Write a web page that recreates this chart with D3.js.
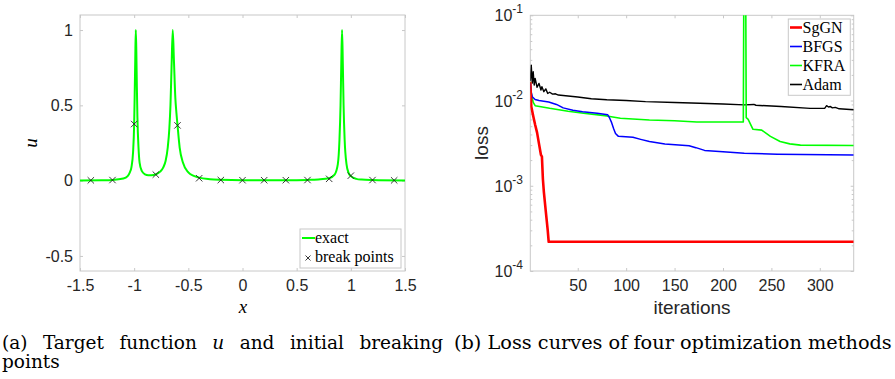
<!DOCTYPE html>
<html>
<head>
<meta charset="utf-8">
<title>Target function and loss curves</title>
<script src="https://cdnjs.cloudflare.com/ajax/libs/d3/7.8.5/d3.min.js"></script>
<style>
  body { margin: 0; background: #fff; }
  .tick text { font-family: "Liberation Sans", Arial, sans-serif; font-size: 16px; fill: #262626; }
  .serif { font-family: "Liberation Serif", "Times New Roman", serif; fill: #000; }
  .cap { font-family: "DejaVu Serif", serif; fill: #000; }
  .sans { font-family: "Liberation Sans", Arial, sans-serif; fill: #262626; }
</style>
</head>
<body>
<div id="fig"></div>
<script>
// ---- (a) target function u ----
var uX = [-1.5, -1.3, -1.2, -1.1, -1.06, -1.04, -1.025, -1.01, -1.0, -0.995, -0.99, -0.985, -0.98, -0.975, -0.97,
          -0.96, -0.95, -0.93, -0.9, -0.87, -0.84, -0.8, -0.76, -0.73, -0.71, -0.69, -0.675, -0.665, -0.655, -0.644,
          -0.633, -0.62, -0.61, -0.6, -0.58, -0.55, -0.5, -0.45, -0.4, -0.3, -0.2, 0, 0.2, 0.4, 0.6, 0.7, 0.8, 0.85,
          0.88, 0.895, 0.905, 0.912, 0.919, 0.926, 0.933, 0.943, 0.96, 0.98, 1.0, 1.05, 1.1, 1.2, 1.5];
var uY = [0.001, 0.003, 0.005, 0.014, 0.03, 0.055, 0.09, 0.19, 0.38, 0.58, 0.8, 1.0, 0.86, 0.62, 0.42,
          0.22, 0.12, 0.065, 0.042, 0.036, 0.036, 0.042, 0.06, 0.09, 0.13, 0.22, 0.35, 0.5, 0.75, 1.0,
          0.8, 0.55, 0.45, 0.37, 0.22, 0.12, 0.055, 0.032, 0.02, 0.01, 0.006, 0.003, 0.003, 0.003, 0.005, 0.008, 0.016, 0.04,
          0.11, 0.27, 0.5, 0.78, 1.0, 0.78, 0.5, 0.27, 0.11, 0.05, 0.03, 0.012, 0.007, 0.004, 0.001];
var bpX = [-1.4, -1.2, -1.0, -0.8, -0.6, -0.4, -0.2, 0, 0.2, 0.4, 0.6, 0.8, 1.0, 1.2, 1.4];
var bpY = [0.002, 0.004, 0.376, 0.04, 0.367, 0.016, 0.004, 0.003, 0.003, 0.003, 0.004, 0.012, 0.033, 0.004, 0.002];
var xTicksA = [-1.5, -1, -0.5, 0, 0.5, 1, 1.5];
var yTicksA = [-0.5, 0, 0.5, 1];

// ---- (b) loss curves ----
var sgIt   = [1, 2, 4, 6, 8, 10, 12, 13, 14, 15, 17, 19, 20, 335];
var sgLoss = [0.0166, 0.0085, 0.0066, 0.0052, 0.0042, 0.0031, 0.0023, 0.0022, 0.0012, 0.00085, 0.0005, 0.0003, 0.00022, 0.00022];
var bfIt   = [1, 2, 3, 6, 10, 20, 28, 35, 45, 55, 70, 81, 83, 85, 87, 89, 92, 107, 115, 124, 140, 165, 172, 181, 200, 222, 256, 335];
var bfLoss = [0.016, 0.0125, 0.0111, 0.0103, 0.0100, 0.0096, 0.0090, 0.0082, 0.0077, 0.0074, 0.0071, 0.0068, 0.0062, 0.0055,
              0.0047, 0.0041, 0.0038, 0.0037, 0.0035, 0.0033, 0.0031, 0.00295, 0.0028, 0.0026, 0.0025, 0.0024, 0.00235, 0.0023];
var kfIt   = [1, 2, 4, 6, 21, 40, 56, 80, 94, 124, 150, 173, 221, 222, 223, 224, 226, 231, 240, 249, 259, 269, 280, 335];
var kfLoss = [0.0166, 0.012, 0.0095, 0.0087, 0.0081, 0.0075, 0.0071, 0.0066, 0.0062, 0.0059, 0.0058, 0.0056, 0.0056, 5, 5,
              0.0063, 0.0060, 0.0046, 0.0045, 0.0038, 0.0033, 0.0031, 0.0030, 0.00297];
var adIt   = [1, 2, 3, 4, 5, 6, 8, 10, 12, 13, 15, 17, 19, 21, 24, 27, 30, 40, 50, 64, 80, 100, 120, 150, 176, 200, 222,
              232, 234, 260, 290, 305, 307, 309, 311, 313, 316, 320, 335];
var adLoss = [0.017, 0.026, 0.016, 0.0218, 0.0152, 0.0182, 0.0143, 0.0159, 0.0133, 0.0145, 0.0127, 0.0137, 0.0121, 0.0125,
              0.0119, 0.0120, 0.0116, 0.0113, 0.0110, 0.0105, 0.0102, 0.0100, 0.0097, 0.0095, 0.0093, 0.0091, 0.0089,
              0.0090, 0.0088, 0.0085, 0.0081, 0.0081, 0.0087, 0.0084, 0.0085, 0.0082, 0.0083, 0.0080, 0.0078];
var methods = ["SgGN", "BFGS", "KFRA", "Adam"];
var xTicksB = [50, 100, 150, 200, 250, 300];
var yTicksB = [1e-4, 1e-3, 1e-2, 1e-1];

var W = 895, H = 379;
var boxCol = "#c8c8c8";

var svg = d3.select("#fig").append("svg")
    .attr("width", W).attr("height", H);

// draws a matlab style box with inward ticks on all sides
function boxAxes(x, y, xt, yt, name) {
  var x0 = x.range()[0], x1 = x.range()[1], y0 = y.range()[0], y1 = y.range()[1];
  var g = svg.append("g");
  g.append("rect").attr("x", x0).attr("y", y1).attr("width", x1 - x0).attr("height", y0 - y1)
    .attr("fill", "none").attr("stroke", boxCol).attr("stroke-width", 1);
  g.append("g").attr("transform", "translate(0," + y0 + ")")
    .call(d3.axisBottom(x).tickValues(xt).tickSize(-3).tickPadding(9)
      .tickFormat(name == "b" ? d3.format("d") : function(d) { return d; }));
  g.append("g").attr("transform", "translate(0," + y1 + ")")
    .call(d3.axisTop(x).tickValues(xt).tickSize(-3).tickFormat(""));
  var la = g.append("g").attr("transform", "translate(" + x0 + ",0)")
    .call(d3.axisLeft(y).tickValues(yt).tickSize(-3).tickPadding(7)
      .tickFormat(name == "b" ? "" : function(d) { return d; }));
  g.append("g").attr("transform", "translate(" + x1 + ",0)")
    .call(d3.axisRight(y).tickValues(yt).tickSize(-3).tickFormat(""));
  g.selectAll(".domain").remove();
  g.selectAll(".tick line").attr("stroke", boxCol);
  return la;
}

// ================= (a) =================
var xa = d3.scaleLinear().domain([-1.5, 1.5]).range([80, 405]);
var ya = d3.scaleLinear().domain([-0.6, 1.1]).range([271, 15]);
boxAxes(xa, ya, xTicksA, yTicksA, "a");

svg.append("clipPath").attr("id", "clipA").append("rect")
  .attr("x", 80).attr("y", 15).attr("width", 325).attr("height", 256);

var uData = uX.map(function(d, i) { return [d, uY[i]]; });
svg.append("path").datum(uData)
  .attr("clip-path", "url(#clipA)")
  .attr("fill", "none").attr("stroke", "#00ff00").attr("stroke-width", 2)
  .attr("d", d3.line().x(function(d) { return xa(d[0]); }).y(function(d) { return ya(d[1]); })
    .curve(d3.curveMonotoneX));

function xMark(sel, cx, cy, r) {
  sel.append("path")
    .attr("d", "M" + (cx - r) + "," + (cy - r) + "L" + (cx + r) + "," + (cy + r) +
               "M" + (cx - r) + "," + (cy + r) + "L" + (cx + r) + "," + (cy - r))
    .attr("stroke", "#222").attr("stroke-width", 0.9).attr("fill", "none");
}
var bpG = svg.append("g");
bpX.forEach(function(d, i) { xMark(bpG, xa(d), ya(bpY[i]), 3.2); });

// legend (a)
var lgA = svg.append("g");
lgA.append("rect").attr("x", 300).attr("y", 229).attr("width", 101).attr("height", 39)
  .attr("fill", "#fff").attr("stroke", boxCol);
lgA.append("line").attr("x1", 302).attr("x2", 315).attr("y1", 238).attr("y2", 238)
  .attr("stroke", "#00ff00").attr("stroke-width", 2);
lgA.append("text").attr("class", "serif").attr("x", 315).attr("y", 243).style("font-size", "16px").text("exact");
xMark(lgA, 308, 258, 2.5);
lgA.append("text").attr("class", "serif").attr("x", 315).attr("y", 262).style("font-size", "16px").text("break points");

svg.append("text").attr("class", "serif").attr("x", 243).attr("y", 313)
  .attr("text-anchor", "middle").style("font-size", "19px").style("font-style", "italic").text("x");
svg.append("text").attr("class", "serif")
  .attr("transform", "translate(37,143) rotate(-90)")
  .attr("text-anchor", "middle").style("font-size", "19px").style("font-style", "italic").text("u");

// ================= (b) =================
var xb = d3.scaleLinear().domain([1, 335]).range([530.3, 853.7]);
var yb = d3.scaleLog().domain([1e-4, 1e-1]).range([271, 15.3]);
boxAxes(xb, yb, xTicksB, yTicksB, "b");

// minor ticks of the log axis
var minors = [];
[1e-4, 1e-3, 1e-2].forEach(function(p) { for (var k = 2; k < 10; k++) minors.push(p * k); });
var mg = svg.append("g");
mg.append("g").attr("transform", "translate(530.3,0)")
  .call(d3.axisRight(yb).tickValues(minors).tickSize(2).tickFormat(""));
mg.append("g").attr("transform", "translate(853.7,0)")
  .call(d3.axisLeft(yb).tickValues(minors).tickSize(2).tickFormat(""));
mg.selectAll(".domain").remove();
mg.selectAll(".tick line").attr("stroke", boxCol);

// 10^k labels
var ylab = svg.append("g");
yTicksB.forEach(function(v) {
  var t = ylab.append("text").attr("class", "sans")
    .attr("x", 523).attr("y", yb(v) + 6).attr("text-anchor", "end").style("font-size", "16px");
  t.append("tspan").text("10");
  t.append("tspan").attr("dy", -8).style("font-size", "12px").text(Math.round(Math.log10(v)));
});

svg.append("clipPath").attr("id", "clipB").append("rect")
  .attr("x", 530.3).attr("y", 15.3).attr("width", 323.4).attr("height", 255.7);

var series = [
  { name: "SgGN", it: sgIt, loss: sgLoss, col: "#ff0000", w: 2.6 },
  { name: "BFGS", it: bfIt, loss: bfLoss, col: "#0000ff", w: 1.5 },
  { name: "KFRA", it: kfIt, loss: kfLoss, col: "#00ff00", w: 1.6 },
  { name: "Adam", it: adIt, loss: adLoss, col: "#000000", w: 1.4 }
];
var lineB = d3.line().x(function(d) { return xb(d[0]); }).y(function(d) { return yb(d[1]); });
// draw order: adam, kfra, bfgs, sggn on top
[3, 2, 1, 0].forEach(function(i) {
  var s = series[i];
  svg.append("path").datum(s.it.map(function(d, j) { return [d, s.loss[j]]; }))
    .attr("clip-path", "url(#clipB)")
    .attr("fill", "none").attr("stroke", s.col).attr("stroke-width", s.w)
    .attr("stroke-linejoin", "round")
    .attr("d", lineB);
});

// legend (b)
var lgB = svg.append("g");
lgB.append("rect").attr("x", 788.3).attr("y", 19).attr("width", 62).attr("height", 76.3)
  .attr("fill", "#fff").attr("stroke", boxCol);
series.forEach(function(s, i) {
  var yy = 27.5 + i * 19;
  lgB.append("line").attr("x1", 790).attr("x2", 802).attr("y1", yy).attr("y2", yy)
    .attr("stroke", s.col).attr("stroke-width", i == 0 ? 2.6 : 1.6);
  lgB.append("text").attr("class", "serif").attr("x", 802.5).attr("y", yy + 5.5)
    .style("font-size", "16px").text(methods[i]);
});

svg.append("text").attr("class", "sans").attr("x", 692).attr("y", 314)
  .attr("text-anchor", "middle").style("font-size", "19px").text("iterations");
svg.append("text").attr("class", "sans")
  .attr("transform", "translate(488,143) rotate(-90)")
  .attr("text-anchor", "middle").style("font-size", "19px").text("loss");

// ================= captions =================
// (a) is justified: stretch only the word gaps
var capA = svg.append("text").attr("class", "cap").attr("x", 2).attr("y", 349)
  .style("font-size", "18.5px");
capA.append("tspan").text("(a) Target function ");
capA.append("tspan").style("font-style", "italic").text("u");
capA.append("tspan").text(" and initial breaking");
var natA = capA.node().getComputedTextLength();
capA.style("word-spacing", Math.max(0, (441 - natA) / 6) + "px");
svg.append("text").attr("class", "cap").attr("x", 2).attr("y", 368)
  .style("font-size", "18.5px").text("points");
// (b) is set tight
var capB = svg.append("text").attr("class", "cap").attr("x", 454).attr("y", 349)
  .style("font-size", "16px").text("(b) Loss curves of four optimization methods");
var natB = capB.node().getComputedTextLength();
capB.style("font-size", (16 * 438 / natB) + "px");
</script>
</body>
</html>
